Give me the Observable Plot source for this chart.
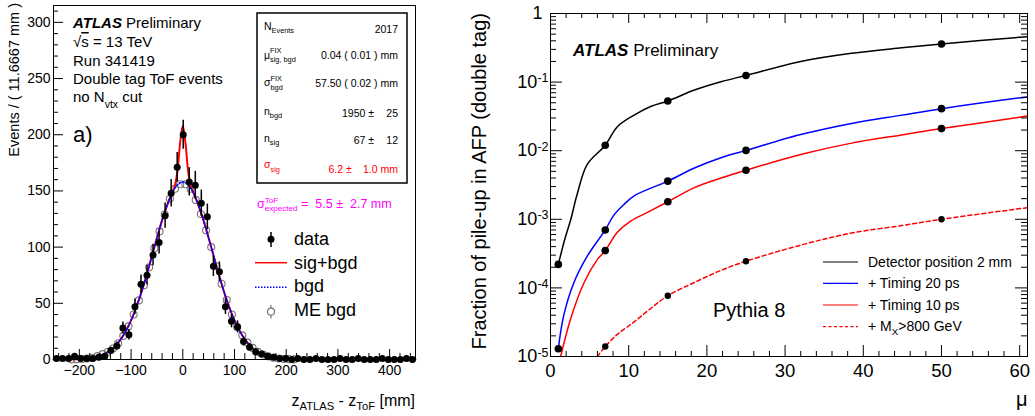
<!DOCTYPE html>
<html><head><meta charset="utf-8">
<script src="https://cdn.jsdelivr.net/npm/d3@7"></script>
<script src="https://cdn.jsdelivr.net/npm/@observablehq/plot@0.6"></script>
<style>
body{margin:0;background:#fff;}
#root{position:relative;width:1035px;height:416px;overflow:hidden;font-family:"Liberation Sans",Arial,Helvetica,sans-serif;color:#000;background:#fff;}
.panel{position:absolute;top:0;}
#ov{position:absolute;left:0;top:0;pointer-events:none;font-family:"Liberation Sans",Arial,Helvetica,sans-serif;}
#ov text{white-space:pre;}
</style>
</head><body>
<div id="root"><div id="left" class="panel" style="left:0"></div><div id="right" class="panel" style="left:460px"></div></div>
<script>
// ---------------- Left panel data (z_ATLAS - z_ToF) ----------------
const binWidth = 700 / 60; // 11.6667 mm
const zBins = d3.range(60).map(k => -250 + (k + 0.5) * binWidth);
const dataCounts = [1,1,1,3,1,1,1,2,3, 8,12,28,22,47,67,75,93,104,128, 148,171,200,158,155,139,127,83,78,47, 34,29,16,11,7,5,3,2,1,1,
  0,1,0,0,1,0,0,0,1,0,0,1,0,0,0,1,0,0,0,1,0];
const dataErrors = [1,1,1,1.7,1,1,1,1.4,1.7, 2.8,3.5,5.3,4.7,6.9,8.2,8.7,9.6,10.2,11.3, 12.2,13.1,13,12.6,12.4,11.8,11.3,9.1,8.8,6.9, 5.8,5.4,4,3.3,2.6,2.2,1.7,1.4,1,1,
  0,1,0,0,1,0,0,0,1,0,0,1,0,0,0,1,0,0,0,1,0];
const meX = d3.range(-215, 216, 10);
const meVals = [0.1,0.3,0.5,0.9,1.6, 3.0,4.8,6.9,9.8,14.5, 21,29.5,40,52.6,66, 82,99,114,129,143, 152,156,156,152,142, 129.5,115,100,83,67.4, 53,40,29,21.5,15, 10.3,6.8,4.5,2.8,1.6, 0.9,0.5,0.3,0.1];
const fitX = [-250,-225,-200,-187.5,-175,-162.5,-150,-137.5,-125,-112.5,-100,-87.5,-75,-62.5,-50,-37.5,-25,-20,-15,-10,-5,0,5,10,15,20,25,37.5,50,62.5,75,87.5,100,112.5,125,137.5,150,162.5,175,187.5,200,225,250,300,350,400,450];
const bgdFit = [0.01,0.07,0.4,0.8,1.5,2.9,5.3,9.0,14.9,23.3,34.8,49.6,67.4,87.5,108.2,127.6,143.7,148.6,152.6,155.5,157.3,157.9,157.3,155.5,152.6,148.6,143.7,127.6,108.2,87.5,67.4,49.6,34.8,23.3,14.9,9.0,5.3,2.9,1.5,0.8,0.4,0.07,0.01,0,0,0,0];
const sigBgdFit = [0.01,0.07,0.4,0.8,1.5,2.9,5.3,9.0,14.9,23.3,34.8,49.6,67.4,87.5,108.2,127.6,143.7,149.0,155.3,169.0,193.5,208.0,193.5,169.0,155.3,149.0,143.7,127.6,108.2,87.5,67.4,49.6,34.8,23.3,14.9,9.0,5.3,2.9,1.5,0.8,0.4,0.07,0.01,0,0,0,0];
const lXMajor = [-200,-100,0,100,200,300,400];
const lXMinor = d3.range(-240, 441, 20).filter(v => v % 100 !== 0);
const lYMajor = [0,50,100,150,200,250,300];
const lYMinor = d3.range(10, 311, 10).filter(v => v % 50 !== 0);

// ---------------- Right panel data (pile-up fraction vs mu) ----------------
const muMarkers = [1, 7, 15, 25, 50];
const detPosMarkers = [2.2e-4, 0.012, 0.053, 0.125, 0.36];
const timing20Markers = [1.3e-5, 7e-4, 3.6e-3, 0.0101, 0.041];
const timing10Markers = [null, 3.5e-4, 1.8e-3, 5.2e-3, 0.021];
const mxMarkers = [null, 1.4e-5, 7.7e-5, 2.45e-4, 1.0e-3];

const detPosMu = [1, 1.8, 2.6, 3.4, 4.7, 7, 8.55, 10.7, 12.8, 15, 18.4, 21.8, 25, 32, 38.5, 44.9, 50, 61];
const detPosCurve = [2.2e-4, 5e-4, 1e-3, 2.3e-3, 6.3e-3, 0.012, 0.0224, 0.033, 0.044, 0.053, 0.0766, 0.101, 0.125, 0.2, 0.263, 0.316, 0.36, 0.46];
const timing20Mu = [1, 1.7, 3.0, 4.7, 7, 8.1, 9.4, 10.7, 15, 18.4, 21.8, 25, 32, 38.5, 44.9, 50, 61];
const timing20Curve = [1.3e-5, 4e-5, 1.2e-4, 2.9e-4, 7e-4, 1.15e-3, 1.65e-3, 2.2e-3, 3.6e-3, 5.6e-3, 7.9e-3, 0.0101, 0.0172, 0.025, 0.033, 0.041, 0.061];
const timing10Mu = [1.3, 2.56, 4.3, 6.0, 7, 8.55, 10.3, 12.4, 15, 18.4, 21.8, 25, 32, 38.5, 44.9, 50, 61];
const timing10Curve = [1e-5, 3.5e-5, 1.2e-4, 2.6e-4, 3.5e-4, 6.5e-4, 9.5e-4, 1.26e-3, 1.8e-3, 2.9e-3, 4.0e-3, 5.2e-3, 8.8e-3, 0.0129, 0.017, 0.021, 0.032];
const mxMu = [6.0, 7, 8.55, 10.7, 12.8, 15, 18.4, 21.8, 25, 32, 38.5, 44.9, 50, 61];
const mxCurve = [1e-5, 1.4e-5, 2.1e-5, 3.2e-5, 5e-5, 7.7e-5, 1.2e-4, 1.8e-4, 2.45e-4, 4.2e-4, 6.3e-4, 8.1e-4, 1.0e-3, 1.48e-3];

const rXMajor = [0,10,20,30,40,50,60];
const rXMinor = d3.range(2, 61, 2).filter(v => v % 10 !== 0);
const rYMajor = [1e-5,1e-4,1e-3,1e-2,1e-1,1];
const rYMinor = [];
for (let e = -5; e <= -1; e++) for (let m = 2; m <= 9; m++) rYMinor.push(m * Math.pow(10, e));
const rYLabelVals = [1e-5,1e-4,1e-3,1e-2,1e-1];
const rYLabelExp = ["-5","-4","-3","-2","-1"];

const font = "Liberation Sans, Arial, Helvetica, sans-serif";
const pts = (xs, ys) => xs.map((x, i) => ({x, y: ys[i]})).filter(d => d.y != null);

// ---------------- Left plot ----------------
const L = {w: 460, h: 416, ml: 53, mr: 45, mt: 5, mb: 57};
const LiW = L.w - L.ml - L.mr, LiH = L.h - L.mt - L.mb;
const dataTable = zBins.map((x, i) => ({x, y: dataCounts[i], e: dataErrors[i]}));
const leftPlot = Plot.plot({
  width: L.w, height: L.h, marginLeft: L.ml, marginRight: L.mr, marginTop: L.mt, marginBottom: L.mb,
  style: {fontFamily: font, fontSize: "14px", color: "black", background: "transparent", overflow: "visible"},
  x: {domain: [-250, 450]},
  y: {domain: [0, 315]},
  marks: [
    Plot.dot(pts(meX, meVals), {x: "x", y: "y", r: 3.5, fill: "none", stroke: "#777", strokeWidth: 1.1}),
    Plot.line(pts(fitX, sigBgdFit), {x: "x", y: "y", stroke: "#ff0000", strokeWidth: 2, curve: "catmull-rom"}),
    Plot.line(pts(fitX, bgdFit), {x: "x", y: "y", stroke: "#0000ff", strokeWidth: 1.6, strokeDasharray: "1.6,1.8", curve: "catmull-rom"}),
    Plot.ruleX(dataTable.filter(d => d.e > 0), {x: "x", y1: d => d.y - d.e, y2: d => d.y + d.e, stroke: "black", strokeWidth: 1.5}),
    Plot.dot(dataTable, {x: "x", y: "y", r: 3.5, fill: "black"}),
    Plot.tickY(lYMajor, {y: d => d, insetRight: LiW - 10, stroke: "black"}),
    Plot.tickY(lYMinor, {y: d => d, insetRight: LiW - 5, stroke: "black"}),
    Plot.tickX(lXMajor, {x: d => d, insetTop: LiH - 10, stroke: "black"}),
    Plot.tickX(lXMinor, {x: d => d, insetTop: LiH - 6, stroke: "black"}),
    Plot.frame({stroke: "black", strokeWidth: 1}),
    Plot.axisX({ticks: lXMajor, tickSize: 0, tickPadding: 6, fontSize: 14, label: null,
      tickFormat: d => d < 0 ? "\u2212" + Math.abs(d) : String(d)}),
    Plot.axisY({ticks: lYMajor, tickSize: 0, tickPadding: 3, fontSize: 14, label: null})
  ]
});
document.getElementById("left").appendChild(leftPlot);

// ---------------- Right plot ----------------
const R = {w: 575, h: 416, ml: 90, mr: 8, mt: 13, mb: 60};
const RiW = R.w - R.ml - R.mr, RiH = R.h - R.mt - R.mb;
const rightPlot = Plot.plot({
  width: R.w, height: R.h, marginLeft: R.ml, marginRight: R.mr, marginTop: R.mt, marginBottom: R.mb,
  style: {fontFamily: font, fontSize: "18px", color: "black", background: "transparent", overflow: "visible"},
  x: {domain: [0, 61]},
  y: {type: "log", domain: [1e-5, 1], axis: null},
  marks: [
    Plot.line(pts(detPosMu, detPosCurve), {x: "x", y: "y", stroke: "black", strokeWidth: 1.5, curve: "catmull-rom", clip: true}),
    Plot.line(pts(timing20Mu, timing20Curve), {x: "x", y: "y", stroke: "#0000ff", strokeWidth: 1.5, curve: "catmull-rom", clip: true}),
    Plot.line(pts(timing10Mu, timing10Curve), {x: "x", y: "y", stroke: "#ff0000", strokeWidth: 1.5, curve: "catmull-rom", clip: true}),
    Plot.line(pts(mxMu, mxCurve), {x: "x", y: "y", stroke: "#ff0000", strokeWidth: 1.5, strokeDasharray: "4,3", curve: "catmull-rom", clip: true}),
    Plot.dot(pts(muMarkers, detPosMarkers), {x: "x", y: "y", r: 3.8, fill: "black"}),
    Plot.dot(pts(muMarkers, timing20Markers), {x: "x", y: "y", r: 3.8, fill: "black"}),
    Plot.dot(pts(muMarkers, timing10Markers), {x: "x", y: "y", r: 3.8, fill: "black"}),
    Plot.dot(pts(muMarkers, mxMarkers), {x: "x", y: "y", r: 3.2, fill: "black"}),
    Plot.tickY(rYMajor, {y: d => d, insetRight: RiW - 12, stroke: "black"}),
    Plot.tickY(rYMinor, {y: d => d, insetRight: RiW - 6, stroke: "black"}),
    Plot.tickY(rYMajor, {y: d => d, insetLeft: RiW - 12, stroke: "black"}),
    Plot.tickY(rYMinor, {y: d => d, insetLeft: RiW - 6, stroke: "black"}),
    Plot.tickX(rXMajor, {x: d => d, insetTop: RiH - 11, stroke: "black"}),
    Plot.tickX(rXMinor, {x: d => d, insetTop: RiH - 5, stroke: "black"}),
    Plot.tickX(rXMajor, {x: d => d, insetBottom: RiH - 10, stroke: "black"}),
    Plot.tickX(rXMinor, {x: d => d, insetBottom: RiH - 5, stroke: "black"}),
    Plot.frame({stroke: "black", strokeWidth: 1}),
    Plot.axisX({ticks: rXMajor, tickSize: 0, tickPadding: 7, fontSize: 18.5, label: null}),
    Plot.text(rYLabelVals, {y: d => d, text: (d, i) => "10|" + rYLabelExp[i], frameAnchor: "left", dx: -2, textAnchor: "end", fontSize: 18}),
    Plot.text([1], {y: d => d, text: () => "1", frameAnchor: "left", dx: -8, textAnchor: "end", fontSize: 18})
  ]
});
document.getElementById("right").appendChild(rightPlot);
d3.select(rightPlot).selectAll("text").each(function () {
  const s = this.textContent;
  if (!s.includes("|")) return;
  const [b, e] = s.split("|");
  const el = d3.select(this);
  el.text(null);
  el.append("tspan").text(b);
  el.append("tspan").attr("dy", "-0.45em").attr("font-size", "12.5px").text(e);
});

// ---------------- Overlay annotations ----------------
const ov = d3.select("#root").append("svg").attr("id", "ov").attr("width", 1035).attr("height", 416);
function rich(x, y, parts, o = {}) {
  const size = o.size || 14;
  const t = ov.append("text").attr("font-size", size).attr("fill", o.fill || "#000")
    .attr("text-anchor", o.anchor || "start");
  if (o.rotate) t.attr("transform", `translate(${x},${y}) rotate(${o.rotate})`);
  else t.attr("x", x).attr("y", y);
  let shift = 0, lastW = 0;
  const subShift = o.subShift ?? 0.3, supShift = o.supShift ?? 0.45, sc = o.scale ?? 0.7;
  for (const p of parts) {
    const [s, k] = Array.isArray(p) ? p : [p, "n"];
    let target = 0, fs = size;
    if (k === "sub" || k === "sub2") { target = subShift * size; fs = sc * size; }
    if (k === "sup") { target = -supShift * size; fs = sc * size; }
    const ts = t.append("tspan").attr("font-size", fs).text(s);
    if (target - shift !== 0) ts.attr("dy", target - shift);
    if (k === "bi") ts.attr("font-weight", "bold").attr("font-style", "italic");
    if (k === "ol") ts.attr("text-decoration", "overline");
    if (k === "sub2") ts.attr("dx", -lastW);
    shift = target;
    lastW = ts.node().getComputedTextLength();
  }
  return t;
}

// left panel texts
rich(73, 27.5, [["ATLAS", "bi"], " Preliminary"], {size: 15});
rich(73, 47, ["\u221A", ["s", "ol"], " = 13 TeV"], {size: 15});
rich(73, 66, ["Run 341419"], {size: 15});
rich(73, 84, ["Double tag ToF events"], {size: 15});
rich(73, 101.5, ["no N", ["vtx", "sub"], " cut"], {size: 15, subShift: 0.4});
rich(73, 142, ["a)"], {size: 22});

// stats box
ov.append("rect").attr("x", 257).attr("y", 13).attr("width", 150).attr("height", 170)
  .attr("fill", "white").attr("stroke", "black").attr("stroke-width", 1.5);
const bs = 10.5;
rich(264, 30, ["N", ["Events", "sub"]], {size: bs, subShift: 0.32});
rich(398, 32.5, ["2017"], {size: bs, anchor: "end"});
rich(264, 58.5, ["\u03BC", ["FIX", "sup"], ["sig, bgd", "sub2"]], {size: bs, supShift: 0.5, subShift: 0.35});
rich(398, 59.3, ["0.04 ( 0.01 ) mm"], {size: bs, anchor: "end"});
rich(264, 86, ["\u03C3", ["FIX", "sup"], ["bgd", "sub2"]], {size: bs, supShift: 0.5, subShift: 0.35});
rich(398, 87.3, ["57.50 ( 0.02 ) mm"], {size: bs, anchor: "end"});
rich(264, 115, ["n", ["bgd", "sub"]], {size: bs, subShift: 0.32});
rich(374, 116.7, ["1950 \u00B1"], {size: bs, anchor: "end"});
rich(398, 116.7, ["25"], {size: bs, anchor: "end"});
rich(264, 141.7, ["n", ["sig", "sub"]], {size: bs, subShift: 0.32});
rich(374, 144, ["67 \u00B1"], {size: bs, anchor: "end"});
rich(398, 144, ["12"], {size: bs, anchor: "end"});
rich(264, 168.3, ["\u03C3", ["sig", "sub"]], {size: bs, subShift: 0.35, fill: "#ff0000"});
rich(351.7, 172.7, ["6.2 \u00B1"], {size: bs, anchor: "end", fill: "#ff0000"});
rich(398, 172.7, ["1.0 mm"], {size: bs, anchor: "end", fill: "#ff0000"});

// magenta expectation
rich(257, 208, ["\u03C3", ["ToF", "sup"], ["expected", "sub2"], " =  5.5 \u00B1  2.7 mm"],
  {size: 12.5, fill: "#ff00ff", supShift: 0.42, subShift: 0.27, scale: 0.65});

// left legend
ov.append("line").attr("x1", 271).attr("x2", 271).attr("y1", 232).attr("y2", 247).attr("stroke", "black").attr("stroke-width", 1.5);
ov.append("circle").attr("cx", 271).attr("cy", 239.3).attr("r", 3.5).attr("fill", "black");
rich(294, 245, ["data"], {size: 18});
ov.append("line").attr("x1", 255).attr("x2", 287).attr("y1", 262.7).attr("y2", 262.7).attr("stroke", "#ff0000").attr("stroke-width", 1.5);
rich(294, 268.5, ["sig+bgd"], {size: 18});
ov.append("line").attr("x1", 255).attr("x2", 287).attr("y1", 287.3).attr("y2", 287.3).attr("stroke", "#0000ff").attr("stroke-width", 1.5).attr("stroke-dasharray", "1.5,1.5");
rich(294, 292, ["bgd"], {size: 18});
ov.append("line").attr("x1", 271).attr("x2", 271).attr("y1", 305).attr("y2", 318.5).attr("stroke", "#777").attr("stroke-width", 1.2);
ov.append("circle").attr("cx", 271).attr("cy", 311.7).attr("r", 3.5).attr("fill", "white").attr("stroke", "#777").attr("stroke-width", 1.2);
rich(294, 316, ["ME bgd"], {size: 18});

// left axis titles
rich(415, 406, ["z", ["ATLAS", "sub"], " - z", ["ToF", "sub"], " [mm]"], {size: 16, anchor: "end", subShift: 0.25, scale: 0.7});
rich(19, 3, ["Events / ( 11.6667 mm )"], {size: 14.5, anchor: "end", rotate: -90});

// right panel texts
rich(573, 55.5, [["ATLAS", "bi"], " Preliminary"], {size: 17});
rich(713, 317.3, ["Pythia 8"], {size: 20});
const legR = [
  {y: 262, tb: 266.7, color: "black", dash: null, parts: ["Detector position 2 mm"]},
  {y: 283.3, tb: 288.3, color: "#0000ff", dash: null, parts: ["+ Timing 20 ps"]},
  {y: 305, tb: 310, color: "#ff0000", dash: null, parts: ["+ Timing 10 ps"]},
  {y: 326.7, tb: 331, color: "#ff0000", dash: "3,2.5", parts: ["+ M", ["X", "sub"], ">800 GeV"]}
];
for (const l of legR) {
  const ln = ov.append("line").attr("x1", 823).attr("x2", 858).attr("y1", l.y).attr("y2", l.y)
    .attr("stroke", l.color).attr("stroke-width", 1.2);
  if (l.dash) ln.attr("stroke-dasharray", l.dash);
  rich(868, l.tb, l.parts, {size: 14, subShift: 0.3});
}
rich(486, 13, ["Fraction of pile-up in AFP (double tag)"], {size: 20, anchor: "end", rotate: -90});
rich(1021.7, 406, ["\u03BC"], {size: 20, anchor: "middle"});
</script>
</body></html>
